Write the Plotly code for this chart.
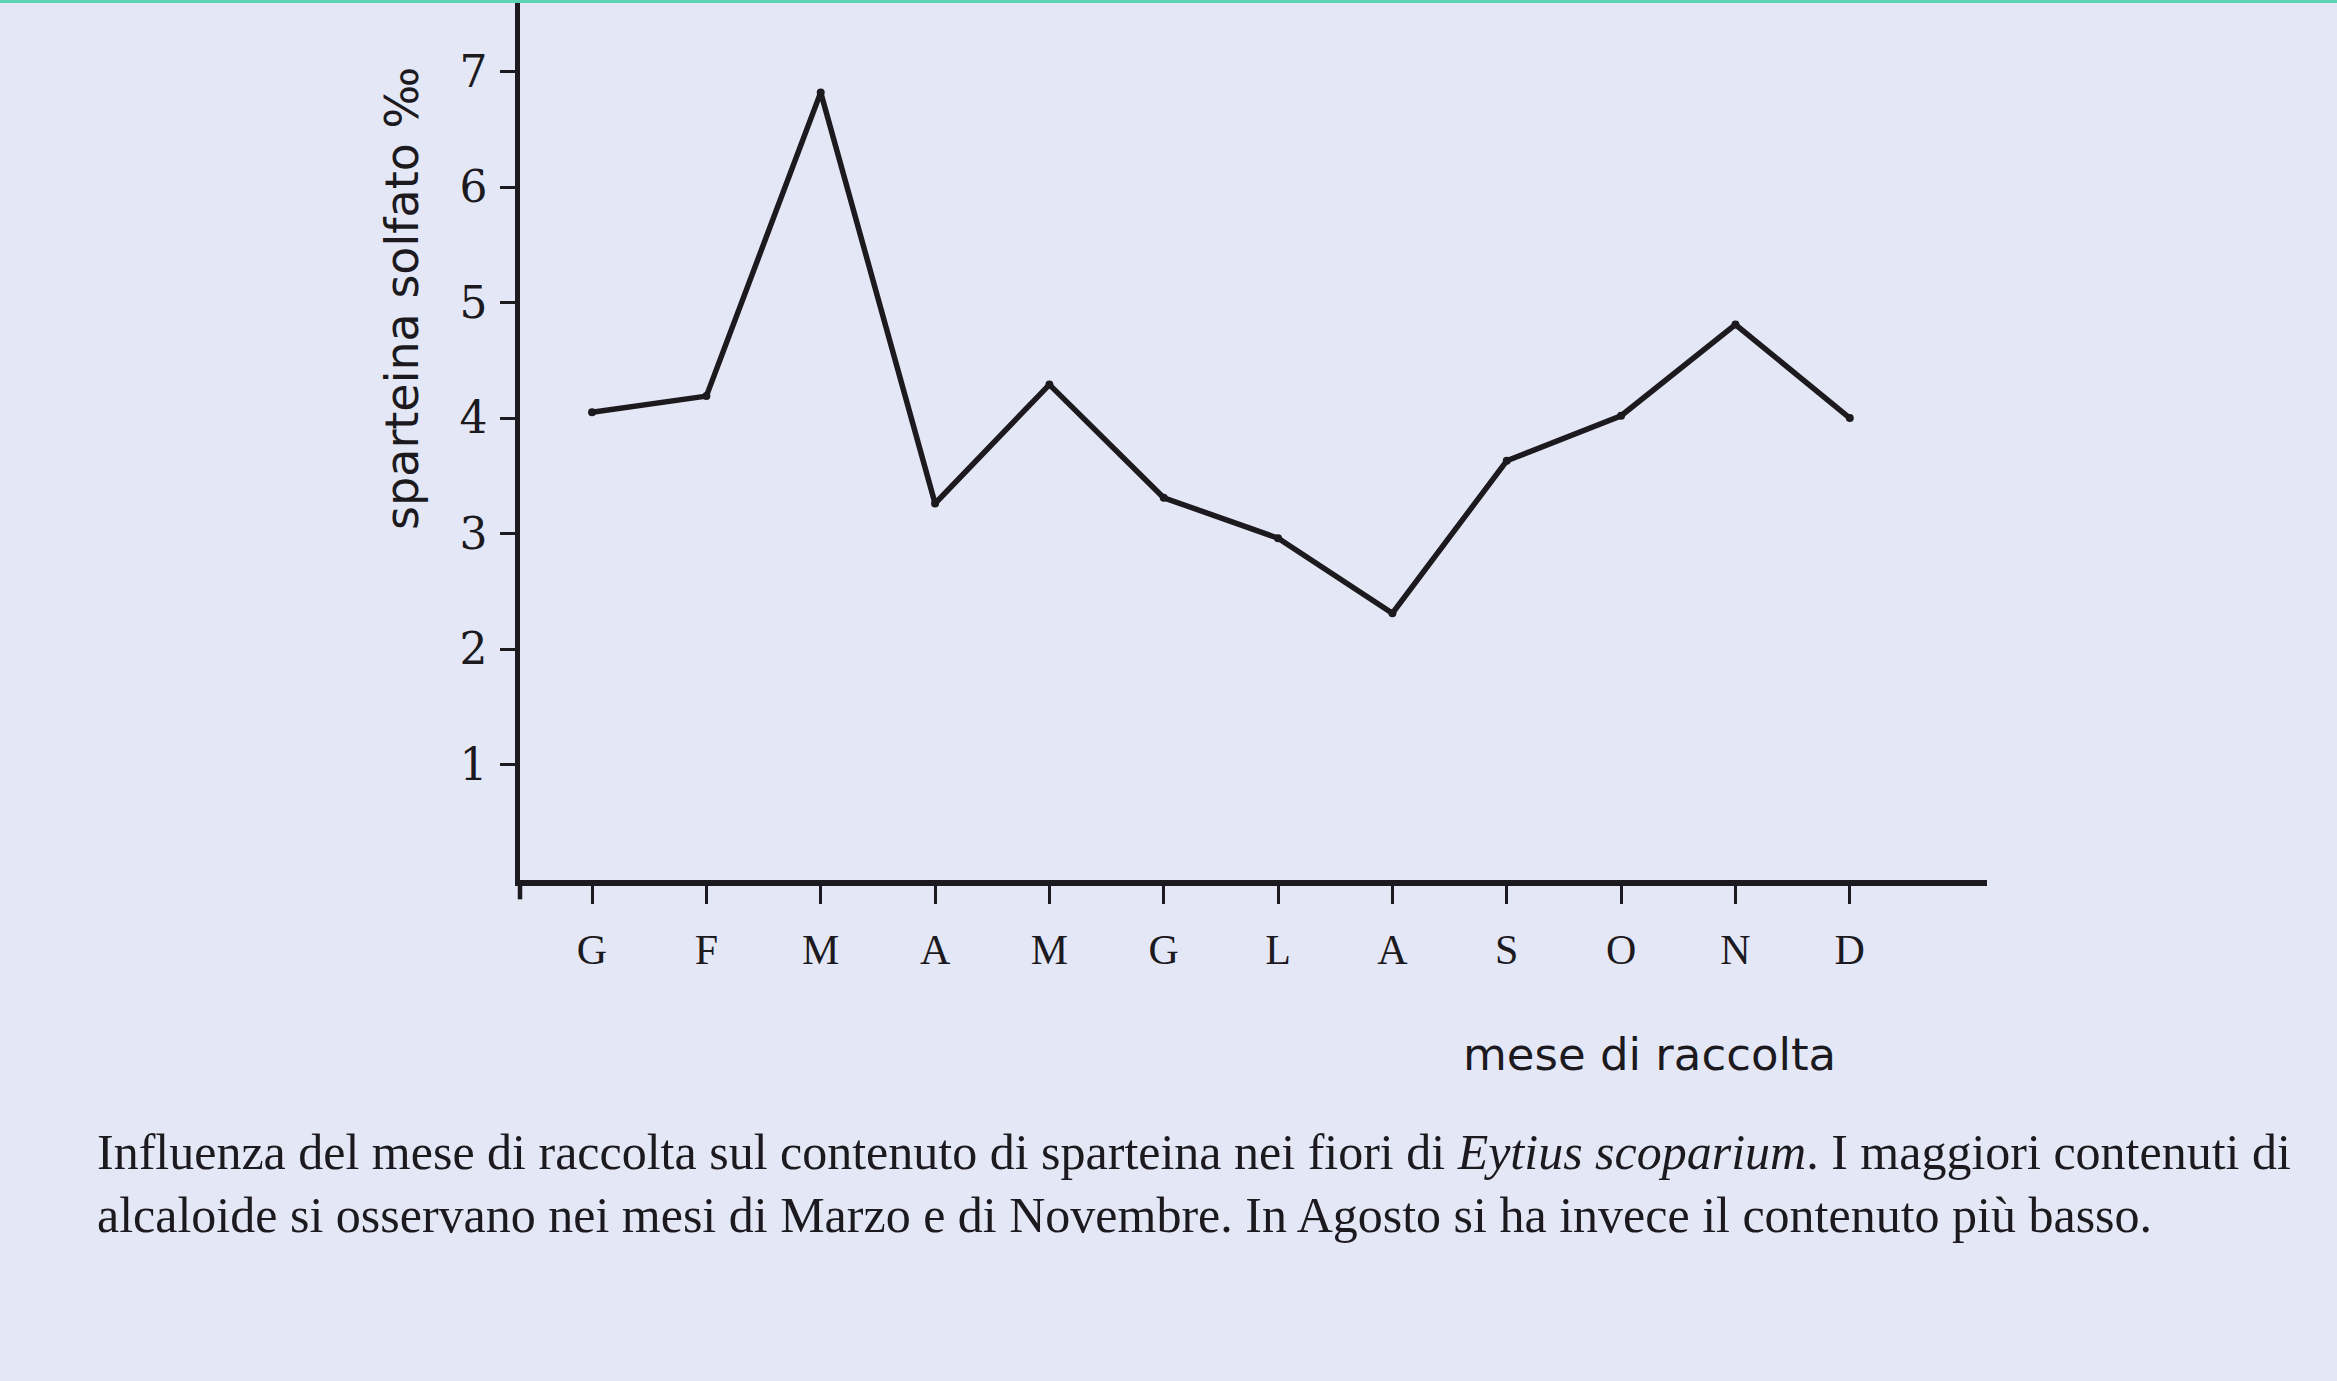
import plotly.graph_objects as go

months = ["G", "F", "M", "A", "M", "G", "L", "A", "S", "O", "N", "D"]
month_idx = list(range(len(months)))
sparteina = [4.05, 4.19, 6.82, 3.26, 4.29, 3.31, 2.96, 2.31, 3.63, 4.02, 4.81, 4.00]
y_ticks = [1, 2, 3, 4, 5, 6, 7]

BG = "#e4e8f6"
INK = "#1c1a1e"

fig = go.Figure()
fig.add_trace(go.Scatter(
    x=month_idx, y=sparteina, mode="lines+markers",
    line=dict(color=INK, width=5.5),
    marker=dict(color=INK, size=8),
    showlegend=False, hoverinfo="skip",
))

fig.update_layout(
    width=2337, height=1381,
    paper_bgcolor=BG, plot_bgcolor=BG,
    margin=dict(l=520, r=350, t=0, b=501),
    xaxis=dict(
        range=[-0.63, 12.2], tickvals=month_idx, ticktext=months,
        showgrid=False, zeroline=False,
        showline=True, linecolor=INK, linewidth=5.5,
        ticks="outside", ticklen=18, tickwidth=3, tickcolor=INK,
        tickfont=dict(family="Liberation Serif", size=42, color=INK),
        ticklabelstandoff=10,
    ),
    yaxis=dict(
        range=[0, 7.62], tickvals=y_ticks,
        showgrid=False, zeroline=False,
        showline=True, linecolor=INK, linewidth=4.5,
        ticks="outside", ticklen=15, tickwidth=3, tickcolor=INK,
        tickfont=dict(family="DejaVu Serif", size=44, color=INK),
        ticklabelstandoff=4,
    ),
    shapes=[
        dict(type="line", xref="x domain", yref="y domain", x0=0, x1=0, y0=-0.022, y1=0,
             line=dict(color=INK, width=4.5)),
        dict(type="line", xref="paper", yref="paper", x0=-0.4, x1=1.3, y0=0.999, y1=0.999,
             line=dict(color="#5cd3b7", width=4)),
    ],
    annotations=[
        dict(text="sparteina solfato ‰", xref="paper", yref="paper",
             x=-0.080, y=0.661, textangle=-90, showarrow=False,
             xanchor="center", yanchor="middle",
             font=dict(family="DejaVu Sans", size=46, color=INK)),
        dict(text="mese di raccolta", xref="paper", yref="paper",
             x=0.770, y=-0.198, showarrow=False,
             xanchor="center", yanchor="middle",
             font=dict(family="DejaVu Sans", size=45, color=INK)),
        dict(text="Influenza del mese di raccolta sul contenuto di sparteina nei fiori di <i>Eytius scoparium</i>. I maggiori contenuti di",
             xref="paper", yref="paper", x=-0.290, y=-0.309, showarrow=False,
             xanchor="left", yanchor="middle",
             font=dict(family="Liberation Serif", size=50, color=INK)),
        dict(text="alcaloide si osservano nei mesi di Marzo e di Novembre. In Agosto si ha invece il contenuto più basso.",
             xref="paper", yref="paper", x=-0.290, y=-0.381, showarrow=False,
             xanchor="left", yanchor="middle",
             font=dict(family="Liberation Serif", size=50, color=INK)),
    ],
)

fig.write_html(
    "out.html",
    config={"displayModeBar": False},
    post_script="document.body.style.margin='0';document.body.style.padding='0';"
                "document.body.style.background='" + BG + "';",
)
